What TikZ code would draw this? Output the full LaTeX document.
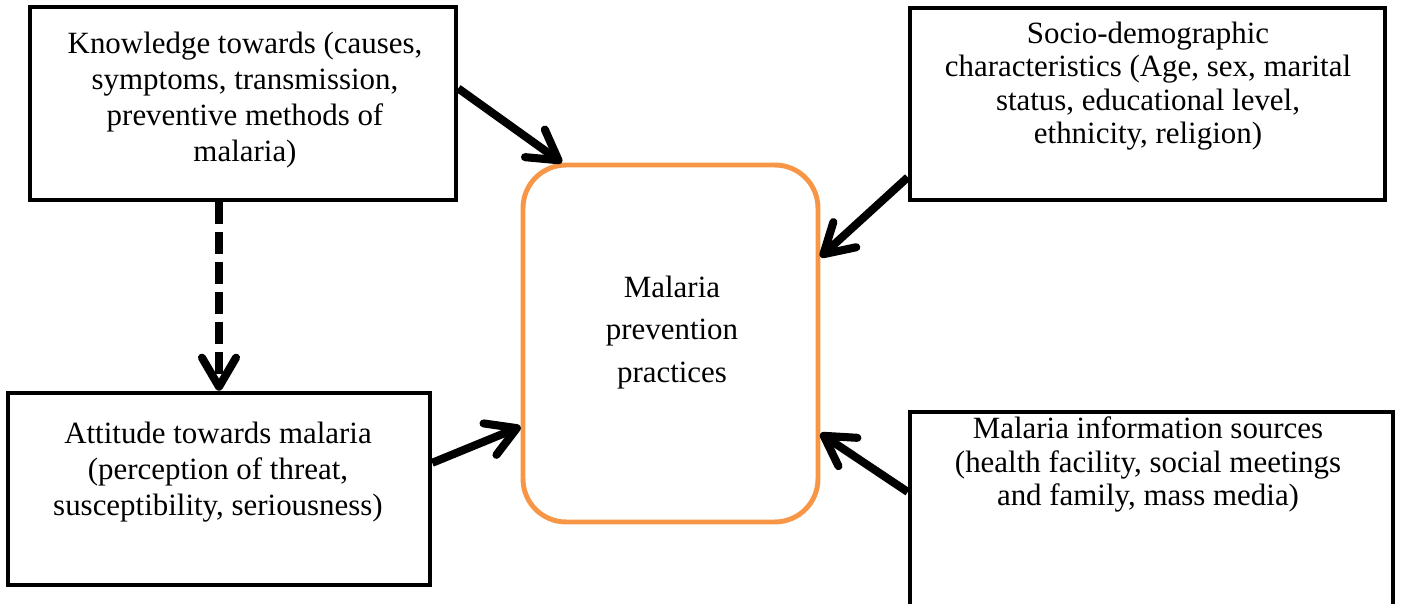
\documentclass[tikz,border=0pt]{standalone}
\usepackage{fontspec}
\setmainfont{Liberation Serif}
\usetikzlibrary{arrows.meta}
\definecolor{frameorange}{HTML}{F79646}

\begin{document}
\begin{tikzpicture}[x=0.02cm,y=-0.02cm,
  factor/.style={draw, line width=2.6pt, inner sep=0pt},
  txt/.style={align=center, inner sep=0pt, font=\fontsize{17.6}{#1}\selectfont},
  txt/.default=20.5pt,
  link/.style={line width=4.6pt, -{Straight Barb[length=5.8mm,width=6.8mm,round]}}]
\useasboundingbox (0,0) rectangle (1414,604);

%factor boxes
\node[factor, minimum width=8.52cm, minimum height=3.86cm] (know) at (243,103.5) {};
\node[factor, minimum width=9.5cm, minimum height=3.84cm] (socio) at (1147.5,104) {};
\node[factor, minimum width=8.44cm, minimum height=3.84cm] (att) at (219,489) {};
\node[factor, minimum width=9.66cm, minimum height=3.88cm] (info) at (1151.5,509) {};

%outcome box
\node[draw=frameorange, line width=2.8pt, rounded corners=0.86cm,
      minimum width=5.9cm, minimum height=7.14cm] (mpp) at (670.5,343.5) {};

%texts
\node[txt] (knowtext) at (245,100.5) {Knowledge towards (causes,\\symptoms, transmission,\\preventive methods of\\malaria)};
\node[txt=19pt] (sociotext) at (1148,86) {Socio-demographic\\characteristics (Age, sex, marital\\status, educational level,\\ethnicity, religion)};
\node[txt] (atttext) at (218,472) {Attitude towards malaria\\(perception of threat,\\susceptibility, seriousness)};
\node[txt=19pt] (infotext) at (1148,464.5) {Malaria information sources\\(health facility, social meetings\\and family, mass media)};
\node[txt=24.2pt] (mpptext) at (672,332.5) {Malaria\\prevention\\practices};

%arrows
\draw[link] (know.4) -- (mpp.121);
\draw[link] (socio.197) -- (mpp.30);
\draw[link] (att.7) -- (mpp.209);
\draw[link] (info.176) -- (mpp.329);
\draw[link, dash pattern=on 12.5pt off 4.5pt] (att.north |- know.south) -- (att.north);
\end{tikzpicture}
\end{document}
